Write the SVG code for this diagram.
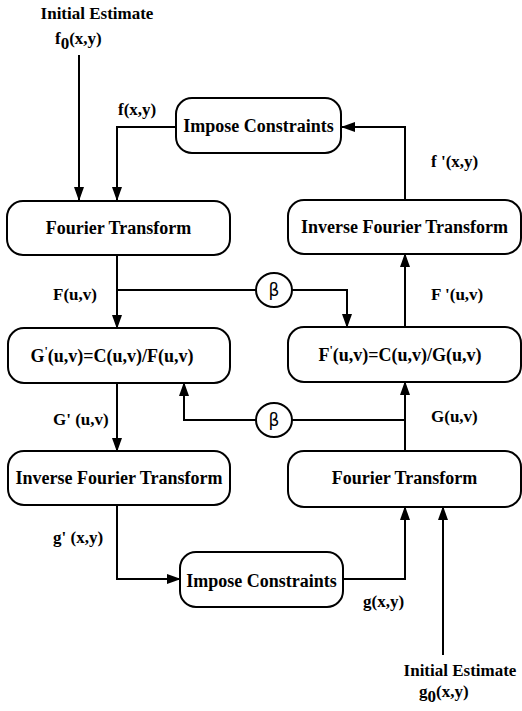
<svg xmlns="http://www.w3.org/2000/svg" width="522" height="711" viewBox="0 0 522 711">
<style>
.box{fill:#fff;stroke:#000;stroke-width:2}
.ln{fill:none;stroke:#000;stroke-width:2}
.nt{font-family:'Liberation Serif','Times New Roman','DejaVu Serif',serif;font-weight:bold;font-size:18px;text-anchor:middle;fill:#000}
.lb{font-family:'Liberation Serif','Times New Roman','DejaVu Serif',serif;font-weight:bold;font-size:17px;fill:#000}
.bt{font-family:'DejaVu Sans',sans-serif;font-size:17px;text-anchor:middle;fill:#000}
</style>
<defs>
<marker id="ah" markerWidth="14" markerHeight="10" refX="13" refY="5" orient="auto" markerUnits="userSpaceOnUse">
<path d="M0,0 L14,5 L0,10 Z" fill="#000"/>
</marker>
</defs>
<rect width="522" height="711" fill="#fff"/>
<g id="connectors">
<path class="ln" d="M79,55 V200" marker-end="url(#ah)"/>
<path class="ln" d="M176,127 H117 V200" marker-end="url(#ah)"/>
<path class="ln" d="M405,200 V127 H342" marker-end="url(#ah)"/>
<path class="ln" d="M117,255 V328" marker-end="url(#ah)"/>
<path class="ln" d="M117,290 H256"/>
<path class="ln" d="M292,290 H347 V327" marker-end="url(#ah)"/>
<path class="ln" d="M405,327 V254" marker-end="url(#ah)"/>
<path class="ln" d="M117,383 V451" marker-end="url(#ah)"/>
<path class="ln" d="M405,451 V382" marker-end="url(#ah)"/>
<path class="ln" d="M405,420 H292"/>
<path class="ln" d="M256,420 H184 V383" marker-end="url(#ah)"/>
<path class="ln" d="M117,505 V579 H180" marker-end="url(#ah)"/>
<path class="ln" d="M343,579 H405 V507" marker-end="url(#ah)"/>
<path class="ln" d="M443,655 V507" marker-end="url(#ah)"/>
</g>
<g id="impose-top"><rect class="box" x="176" y="98" width="165" height="55" rx="16"/><text class="nt" x="258.5" y="132">Impose Constraints</text></g>
<g id="ft-top"><rect class="box" x="7" y="201" width="223" height="54" rx="16"/><text class="nt" x="118.5" y="234">Fourier Transform</text></g>
<g id="ift-top"><rect class="box" x="288" y="200" width="233" height="54" rx="16"/><text class="nt" x="404.5" y="233">Inverse Fourier Transform</text></g>
<g id="gprime"><rect class="box" x="8" y="328" width="222" height="55" rx="16"/><text class="nt" x="112" y="362">G<tspan dy="-7" font-size="12">'</tspan><tspan dy="7">(u,v)=C(u,v)/F(u,v)</tspan></text></g>
<g id="fprime"><rect class="box" x="288" y="327" width="233" height="55" rx="16"/><text class="nt" x="400" y="361">F<tspan dy="-7" font-size="12">'</tspan><tspan dy="7">(u,v)=C(u,v)/G(u,v)</tspan></text></g>
<g id="ift-bottom"><rect class="box" x="8" y="451" width="222" height="54" rx="16"/><text class="nt" x="119" y="484">Inverse Fourier Transform</text></g>
<g id="ft-bottom"><rect class="box" x="288" y="451" width="233" height="56" rx="16"/><text class="nt" x="404.5" y="484">Fourier Transform</text></g>
<g id="impose-bottom"><rect class="box" x="180" y="552" width="163" height="55" rx="16"/><text class="nt" x="261.5" y="587">Impose Constraints</text></g>
<g id="beta-top"><ellipse class="box" cx="274" cy="290" rx="18" ry="17"/><text class="bt" x="274" y="296">β</text></g>
<g id="beta-bottom"><ellipse class="box" cx="274" cy="420" rx="18" ry="17"/><text class="bt" x="274" y="426">β</text></g>
<g id="labels">
<text class="lb" x="97" y="19" text-anchor="middle">Initial Estimate</text>
<text class="lb" x="55" y="44">f<tspan dy="5">0</tspan><tspan dy="-5">(x,y)</tspan></text>
<text class="lb" x="118" y="115">f(x,y)</text>
<text class="lb" x="431" y="167">f '(x,y)</text>
<text class="lb" x="53" y="300">F(u,v)</text>
<text class="lb" x="431" y="300">F '(u,v)</text>
<text class="lb" x="53" y="425">G' (u,v)</text>
<text class="lb" x="431" y="422">G(u,v)</text>
<text class="lb" x="53" y="543">g' (x,y)</text>
<text class="lb" x="363" y="607">g(x,y)</text>
<text class="lb" x="460" y="676" text-anchor="middle">Initial Estimate</text>
<text class="lb" x="419" y="697">g<tspan dy="5">0</tspan><tspan dy="-5">(x,y)</tspan></text>
</g>
</svg>
